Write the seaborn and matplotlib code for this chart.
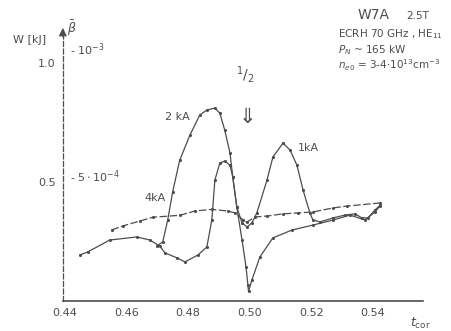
import matplotlib
matplotlib.use("Agg")
import matplotlib.pyplot as plt
import seaborn as sns
import pandas as pd

# values (W in kJ vs t_cor)
t_1ka = [0.4449, 0.4475, 0.4546, 0.4634, 0.4676, 0.4708, 0.4725, 0.4764, 0.4790, 0.4832,
         0.4861, 0.4877, 0.4887, 0.4903, 0.4919, 0.4936, 0.4945, 0.4958, 0.4975, 0.4991,
         0.5007, 0.5023, 0.5056, 0.5075, 0.5108, 0.5131, 0.5153, 0.5173, 0.5195, 0.5205,
         0.5228, 0.5270, 0.5309, 0.5341, 0.5364, 0.5383, 0.5406, 0.5423]
w_1ka = [0.193, 0.206, 0.256, 0.269, 0.256, 0.231, 0.202, 0.181, 0.164, 0.193,
         0.227, 0.340, 0.508, 0.580, 0.588, 0.571, 0.521, 0.395, 0.328, 0.311,
         0.328, 0.370, 0.508, 0.605, 0.664, 0.634, 0.571, 0.466, 0.370, 0.340,
         0.332, 0.349, 0.361, 0.366, 0.349, 0.349, 0.382, 0.403]

t_2ka = [0.4699, 0.4718, 0.4734, 0.4750, 0.4773, 0.4806, 0.4838, 0.4861, 0.4887, 0.4903,
         0.4919, 0.4936, 0.4945, 0.4958, 0.4975, 0.4988, 0.4994, 0.4996, 0.5007, 0.5033,
         0.5075, 0.5137, 0.5205, 0.5270, 0.5325, 0.5374, 0.5406, 0.5423]
w_2ka = [0.231, 0.248, 0.340, 0.458, 0.592, 0.697, 0.782, 0.803, 0.811, 0.790,
         0.718, 0.622, 0.521, 0.395, 0.256, 0.143, 0.067, 0.040, 0.088, 0.185,
         0.265, 0.298, 0.319, 0.340, 0.361, 0.340, 0.374, 0.400]

t_4ka = [0.4552, 0.4588, 0.4644, 0.4686, 0.4773, 0.4822, 0.4877, 0.4929, 0.4952, 0.4978,
         0.4991, 0.5017, 0.5056, 0.5108, 0.5156, 0.5205, 0.5270, 0.5316, 0.5423]
w_4ka = [0.298, 0.315, 0.336, 0.352, 0.360, 0.378, 0.385, 0.378, 0.370, 0.341,
         0.332, 0.353, 0.357, 0.366, 0.370, 0.374, 0.391, 0.399, 0.412]

x_ticks = [0.44, 0.46, 0.48, 0.50, 0.52, 0.54]
y_ticks = [0.5, 1.0]

ink = "#4d4d4d"

sns.set_theme(style="white")
plt.rcParams['font.family'] = ['DejaVu Sans']

fig = plt.figure(figsize=(4.52, 3.31), dpi=100)
ax = fig.add_axes([0.139, 0.091, 0.797, 0.818])

df1 = pd.DataFrame({"t": t_1ka, "W": w_1ka})
df2 = pd.DataFrame({"t": t_2ka, "W": w_2ka})
df4 = pd.DataFrame({"t": t_4ka, "W": w_4ka})

sns.lineplot(data=df1, x="t", y="W", sort=False, estimator=None, color=ink, lw=0.9, ax=ax)
sns.lineplot(data=df2, x="t", y="W", sort=False, estimator=None, color=ink, lw=0.9, ax=ax)
sns.lineplot(data=df4, x="t", y="W", sort=False, estimator=None, color=ink, lw=0.9,
             dashes=(6, 2), ax=ax)
for d in (df1, df2, df4):
    sns.scatterplot(data=d, x="t", y="W", color=ink, s=5, linewidth=0, ax=ax)

ax.set_xlim(0.4394, 0.5562)
ax.set_ylim(0, 1.139)
ax.set_xticks(x_ticks)
ax.set_xticklabels([f"{v:.2f}" for v in x_ticks], color=ink, fontsize=8)
ax.set_yticks(y_ticks)
ax.set_yticklabels([f"{v:.1f}" for v in y_ticks], color=ink, fontsize=8)
ax.tick_params(direction="in", length=3, color=ink, pad=5)
ax.set_xlabel("")
ax.set_ylabel("")

for s in ("top", "right"):
    ax.spines[s].set_visible(False)
ax.spines["left"].set_color(ink)
ax.spines["left"].set_linestyle((0, (4, 2)))
ax.spines["left"].set_linewidth(0.9)
ax.spines["bottom"].set_color(ink)
ax.spines["bottom"].set_linewidth(1.2)

# axis annotations
ax.annotate("", xy=(0, 1.16), xytext=(0, 1.10), xycoords=("axes fraction", "data"),
            arrowprops=dict(arrowstyle="-|>", color=ink, lw=0.8), annotation_clip=False)
fig.text(13 / 452, 1 - 43 / 331, "W [kJ]", color=ink, fontsize=8)
fig.text(67 / 452, 1 - 33 / 331, r"$\bar{\beta}$", color=ink, fontsize=9)
fig.text(70 / 452, 1 - 55 / 331, r"- $10^{-3}$", color=ink, fontsize=8)
fig.text(70 / 452, 1 - 182 / 331, r"- $5\cdot10^{-4}$", color=ink, fontsize=8)
fig.text(410 / 452, 1 - 327 / 331, r"$t_{\rm cor}$", color=ink, fontsize=9)

ax.text(0.4725, 0.76, "2 kA", color=ink, fontsize=8)
ax.text(0.5155, 0.63, "1kA", color=ink, fontsize=8)
ax.text(0.4660, 0.42, "4kA", color=ink, fontsize=8)

ax.text(0.4985, 0.93, r"$^{1}/_{2}$", color=ink, fontsize=10, ha="center")
ax.text(0.4991, 0.75, "⇓", color=ink, fontsize=15, ha="center")

fig.text(358 / 452, 1 - 19 / 331, "W7A", color=ink, fontsize=10)
fig.text(406 / 452, 1 - 19 / 331, "2.5T", color=ink, fontsize=7.5)
fig.text(338 / 452, 1 - 37 / 331, r"ECRH 70 GHz , HE$_{11}$", color=ink, fontsize=7.5)
fig.text(338 / 452, 1 - 53 / 331, r"$P_N$ ~ 165 kW", color=ink, fontsize=7.5)
fig.text(338 / 452, 1 - 69 / 331, r"$n_{e0}$ = 3-4$\cdot$10$^{13}$cm$^{-3}$", color=ink, fontsize=7.5)

fig.savefig("out.png", dpi=100)
